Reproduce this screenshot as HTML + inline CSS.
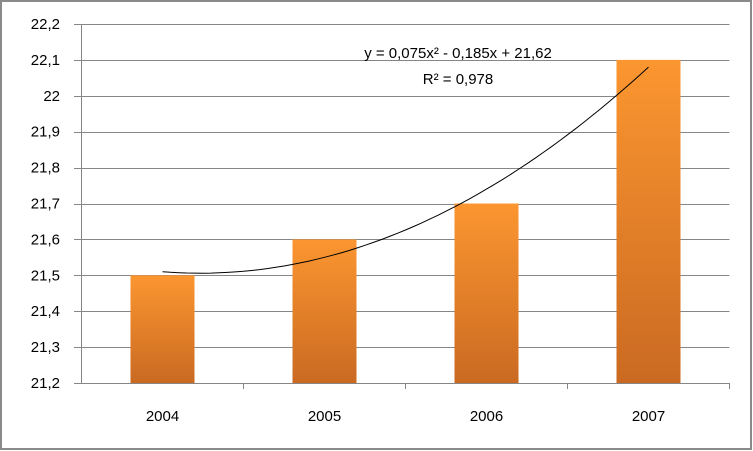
<!DOCTYPE html>
<html><head><meta charset="utf-8"><style>
body{margin:0;background:#fff}
svg{display:block;font-family:"Liberation Sans",sans-serif}
</style></head><body>
<svg id="c" width="753" height="451">
<defs><linearGradient id="g" x1="0" y1="0" x2="0" y2="1">
<stop offset="0" stop-color="#fb9630"/><stop offset="1" stop-color="#ca6a22"/></linearGradient></defs>
<rect x="1" y="1" width="750" height="448" fill="#fff" stroke="#8a8a8a" stroke-width="2"/>
<g id="grid"></g><g id="bars"></g><g id="axes"></g>
<text x="458" y="58" text-anchor="middle" font-size="15">y = 0,075x² - 0,185x + 21,62</text>
<text x="458" y="84" text-anchor="middle" font-size="15">R² = 0,978</text>
</svg>
<script>
const categories=["2004","2005","2006","2007"];
const values=[21.5,21.6,21.7,22.1];
const yTicks=[21.2,21.3,21.4,21.5,21.6,21.7,21.8,21.9,22,22.1,22.2];
const trendCoef=[0.075,-0.185,21.62];
const NS="http://www.w3.org/2000/svg";
const L=81.5,R=729.5,T=24,B=383,ymin=21.2,ymax=22.2;
const y=v=>B-(v-ymin)/(ymax-ymin)*(B-T);
const bw=(R-L)/categories.length;
const x=i=>L+bw*(i+0.5);
function mk(t,a,p){const e=document.createElementNS(NS,t);for(const k in a)e.setAttribute(k,a[k]);p.appendChild(e);return e;}
const grid=document.getElementById('grid'),bars=document.getElementById('bars'),axes=document.getElementById('axes');
yTicks.forEach(v=>{
 const l=mk('line',{x1:74,x2:R,y1:Math.round(y(v))+.5,y2:Math.round(y(v))+.5,stroke:'#868686'},grid);
 
 
 const t=mk('text',{x:60,y:y(v)+5,'text-anchor':'end','font-size':15},axes);
 t.textContent=String(v).replace('.',',');
 
 
});
categories.forEach((c,i)=>{
 const r=mk('rect',{x:x(i)-32,y:y(values[i]),width:64,height:B-y(values[i]),fill:'url(#g)'},bars);
 
 
 const t=mk('text',{x:x(i),y:421,'text-anchor':'middle','font-size':15},axes);
 t.textContent=c;
 
 
 const tk=mk('line',{x1:L+bw*(i+1),x2:L+bw*(i+1),y1:B,y2:B+6,stroke:'#868686'},axes);
 
 
});
const ax=mk('line',{x1:L,x2:L,y1:T,y2:B,stroke:'#868686'},axes);


const bx=mk('line',{x1:L,x2:R,y1:B+.5,y2:B+.5,stroke:'#868686'},axes);


let d='';
for(let s=0;s<=60;s++){const xx=1+3*s/60;const v=trendCoef[0]*xx*xx+trendCoef[1]*xx+trendCoef[2];d+=(s?'L':'M')+x(xx-1).toFixed(1)+' '+y(v).toFixed(1);}
const tl=mk('path',{d:d,fill:'none',stroke:'#000','stroke-width':1},axes);


</script>
</body></html>
